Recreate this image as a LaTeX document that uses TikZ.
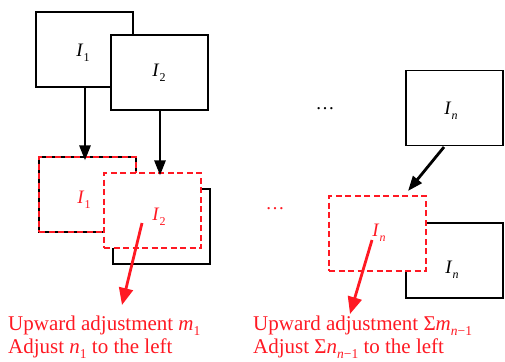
\documentclass[tikz,border=0pt]{standalone}
\usepackage{fontspec}
\setmainfont{Liberation Serif}
\usetikzlibrary{arrows.meta}
\definecolor{myred}{RGB}{255,25,35}
\newcommand{\lsub}[1]{\raisebox{-0.25em}{\fontsize{12}{12}\selectfont #1}}
\newcommand{\tsub}[1]{\raisebox{-0.25em}{\fontsize{13.5}{13.5}\selectfont #1}}
\begin{document}
\begin{tikzpicture}[x=1pt,y=-1pt,
  box/.style={draw=black, line width=1.2pt, fill=white, minimum width=97pt, minimum height=75pt, inner sep=0pt},
  rdash/.style={draw=myred, dash pattern=on 6pt off 3.5pt, line width=1.2pt, minimum width=97pt, minimum height=75pt, inner sep=0pt},
  lab/.style={font=\fontsize{19}{19}\selectfont, inner sep=0pt},
  txt/.style={font=\fontsize{21}{21}\selectfont, text=myred, inner sep=0pt, anchor=base west},
  barrow/.style={-{Triangle[length=15pt,width=11pt]}, line width=2.8pt},
  rarrow/.style={-{Triangle[length=17pt,width=14pt]}, line width=2.8pt, draw=myred, fill=myred}]
\useasboundingbox (0,0) rectangle (505,361);
% top row
\node[box] (t1) at (84.5,49.5) {};
\node[lab] (t1l) at (83,53) {\textit{I}\lsub{1}};
\node[box] (t2) at (159.5,72.5) {};
\node[lab] (t2l) at (159,73) {\textit{I}\lsub{2}};
\node[box] (tn) at (454.5,108) {};
\node[lab] (tnl) at (451,111) {\textit{I}\lsub{\textit{n}}};
\node[lab] (dots1) at (325,109) {…};
% lower row
\node[box] (b1) at (87.5,194.5) {};
\node[rdash] (b1r) at (87.5,194.5) {};
\node[lab, text=myred] (b1l) at (84,200) {\textit{I}\lsub{1}};
\node[box] (b2) at (161.5,226.5) {};
\node[rdash, fill=white] (b2r) at (152.5,210.5) {};
\node[lab, text=myred] (b2l) at (159,217) {\textit{I}\lsub{2}};
\node[box] (bn) at (454.5,260.5) {};
\node[rdash, fill=white] (bnr) at (377.5,233.5) {};
\node[lab, text=myred] (bnl) at (379,233) {\textit{I}\lsub{\textit{n}}};
\node[lab] (bnl2) at (452,270) {\textit{I}\lsub{\textit{n}}};
\node[lab, text=myred] (dots2) at (275,209) {…};
% arrows
\draw[barrow] (t1.south -| 85,0) -- ([yshift=-4pt]b1.north -| 85,0);
\draw[barrow] (t2.south -| 160,0) -- ([yshift=-3pt]b2r.north -| 160,0);
\coordinate (an1) at (444,147);
\coordinate (an2) at (408,191);
\draw[barrow] (an1) -- (an2);
\coordinate (r1a) at (142,223);
\coordinate (r1b) at (122,305);
\draw[rarrow] (r1a) -- (r1b);
\coordinate (r2a) at (372,240);
\coordinate (r2b) at (350,314);
\draw[rarrow] (r2a) -- (r2b);
% texts
\node[txt] (x1) at (8,330.5) {Upward adjustment \textit{m}\tsub{1}};
\node[txt] (x2) at (8,353) {Adjust \textit{n}\tsub{1} to the left};
\node[txt] (x3) at (253,330.5) {Upward adjustment Σ\textit{m}\tsub{\textit{n}−1}};
\node[txt] (x4) at (253,353) {Adjust Σ\textit{n}\tsub{\textit{n}−1} to the left};
\end{tikzpicture}
\end{document}
